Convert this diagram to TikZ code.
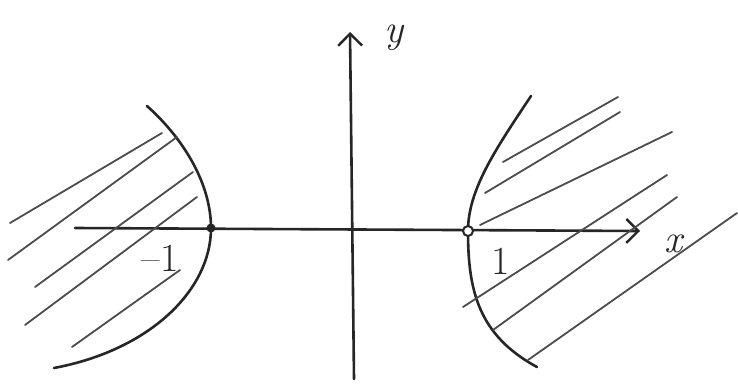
\documentclass[tikz,border=0pt]{standalone}
\usetikzlibrary{arrows.meta}
\begin{document}
\begin{tikzpicture}[x=1pt,y=-1pt,
  axis/.style={line width=2.6pt,draw=black!85,line cap=round},
  curve/.style={line width=2.6pt,draw=black!85,line cap=round},
  hatch/.style={line width=1.8pt,draw=black!70,line cap=round},
  lbl/.style={text=black!85,inner sep=0pt,font=\fontsize{40}{40}\selectfont}]
\useasboundingbox (0,0) rectangle (738,385);
\fill[white] (0,0) rectangle (738,385);
% axes
\coordinate (xs) at (75,228);
\coordinate (xe) at (640,231);
\coordinate (ys) at (354,379);
\coordinate (ye) at (350,32);
\draw[axis,-{Straight Barb[length=12pt,width=24pt,line width=2.4pt]}] (xs) -- (xe);
\draw[axis,-{Straight Barb[length=12pt,width=24pt,line width=2.4pt]}] (ys) -- (ye);
% hyperbola branches
\coordinate (lv) at (211,228);
\coordinate (rv) at (468,231);
\draw[curve] (147,106) .. controls (185,140) and (211,185) .. (lv)
  .. controls (211,290) and (150,350) .. (54,368);
\draw[curve] (531,96) .. controls (495,150) and (468,190) .. (rv)
  .. controls (468,290) and (478,335) .. (537,367);
% left hatching
\draw[hatch] (10,223) -- (162,133);
\draw[hatch] (8,260) -- (177,137);
\draw[hatch] (35,287) -- (193,172);
\draw[hatch] (25,325) -- (197,197);
\draw[hatch] (72,347) -- (180,270);
% right hatching
\draw[hatch] (503,162) -- (618,97);
\draw[hatch] (485,193) -- (620,112);
\draw[hatch] (480,225) -- (672,132);
\draw[hatch] (463,307) -- (667,175);
\draw[hatch] (493,330) -- (677,197);
\draw[hatch] (528,360) -- (737,213);
% vertex marks
\fill[black!85] (lv) circle (4.5);
\draw[line width=2pt,draw=black!85,fill=white] (rv) circle (5);
% labels
\node[lbl] (lx) at (675,244) {\textit{x}};
\node[lbl] (ly) at (395,38) {\textit{y}};
\node[lbl] (l1) at (501,261) {1};
\node[lbl] (lm1) at (160,258) {\textendash1};
\end{tikzpicture}
\end{document}
